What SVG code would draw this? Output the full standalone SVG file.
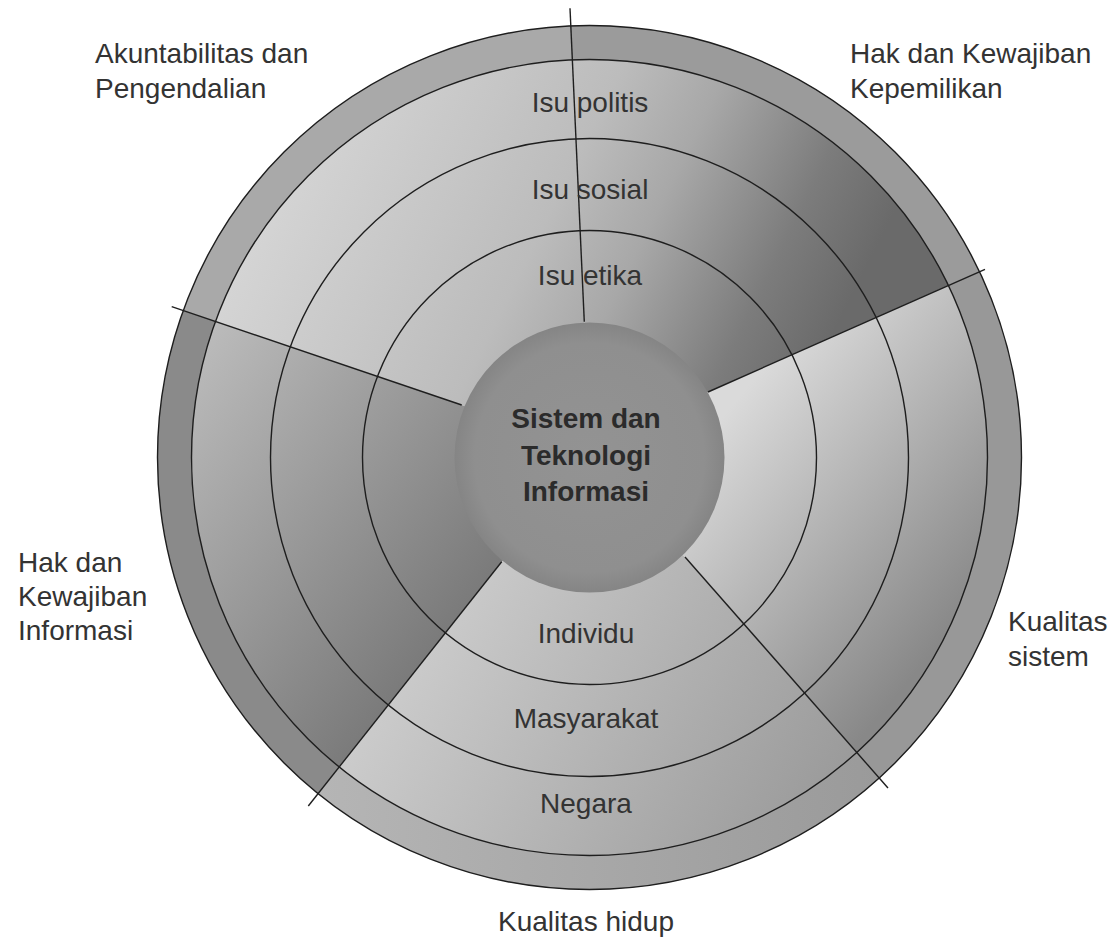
<svg xmlns="http://www.w3.org/2000/svg" width="1113" height="939" viewBox="0 0 1113 939">
  <style>
    .ring { fill: none; stroke: #1e1e1e; stroke-width: 1.4; }
    .div { fill: none; stroke: #1e1e1e; stroke-width: 1.4; stroke-linecap: butt; }
    .lbl { font-family: "Liberation Sans", Arial, sans-serif; font-size: 28px; fill: #333333; }
    .mid { text-anchor: middle; }
    .ctr { font-family: "Liberation Sans", Arial, sans-serif; font-size: 28px; font-weight: bold; fill: #2b2b2b; text-anchor: middle; }
  </style>
  <defs>
    <clipPath id="disc">
      <circle cx="589.5" cy="457.5" r="432"/>
    </clipPath>
    <clipPath id="band">
      <path clip-rule="evenodd" d="M157.5,457.5 a432,432 0 1,0 864,0 a432,432 0 1,0 -864,0 Z M191.5,457.5 a398,398 0 1,0 796,0 a398,398 0 1,0 -796,0 Z"/>
    </clipPath>
    <linearGradient id="gTop" gradientUnits="userSpaceOnUse" x1="300" y1="150" x2="800" y2="400">
      <stop offset="0" stop-color="#d4d4d4"/>
      <stop offset="0.45" stop-color="#bcbcbc"/>
      <stop offset="0.62" stop-color="#a8a8a8"/>
      <stop offset="0.85" stop-color="#7c7c7c"/>
      <stop offset="1" stop-color="#6a6a6a"/>
    </linearGradient>
    <linearGradient id="gRight" gradientUnits="userSpaceOnUse" x1="720" y1="420" x2="960" y2="620">
      <stop offset="0" stop-color="#dadada"/>
      <stop offset="1" stop-color="#888888"/>
    </linearGradient>
    <linearGradient id="gBottom" gradientUnits="userSpaceOnUse" x1="420" y1="620" x2="820" y2="860">
      <stop offset="0" stop-color="#cccccc"/>
      <stop offset="1" stop-color="#989898"/>
    </linearGradient>
    <linearGradient id="gBottomBand" gradientUnits="userSpaceOnUse" x1="300" y1="800" x2="880" y2="800">
      <stop offset="0" stop-color="#b6b6b6"/>
      <stop offset="1" stop-color="#9a9a9a"/>
    </linearGradient>
    <linearGradient id="gLeft" gradientUnits="userSpaceOnUse" x1="200" y1="350" x2="520" y2="600">
      <stop offset="0" stop-color="#bababa"/>
      <stop offset="1" stop-color="#747474"/>
    </linearGradient>
    <radialGradient id="gCenter" cx="0.5" cy="0.5" r="0.5">
      <stop offset="0" stop-color="#939393"/>
      <stop offset="0.85" stop-color="#8f8f8f"/>
      <stop offset="1" stop-color="#858585"/>
    </radialGradient>
  </defs>

  <rect x="0" y="0" width="1113" height="939" fill="#ffffff"/>

  <g id="sector-akuntabilitas">
    <polygon clip-path="url(#disc)" fill="url(#gTop)" points="589.5,452 461.7,405 -11.8,244.5 -11.8,-178.3 561.5,-178.3 584.3,321.7"/>
    <polygon clip-path="url(#band)" fill="#a9a9a9" points="589.5,452 461.7,405 -11.8,244.5 -11.8,-178.3 561.5,-178.3 584.3,321.7"/>
  </g>
  <g id="sector-kepemilikan">
    <polygon clip-path="url(#disc)" fill="url(#gTop)" points="589.5,452 584.3,321.7 561.5,-178.3 1165,-178.3 1165,189.5 708,392"/>
    <polygon clip-path="url(#band)" fill="#9b9b9b" points="589.5,452 584.3,321.7 561.5,-178.3 1165,-178.3 1165,189.5 708,392"/>
  </g>
  <g id="sector-kualitas-sistem">
    <polygon clip-path="url(#disc)" fill="url(#gRight)" points="589.5,452 708,392 1165,189.5 1165,932.6 1015,932.6 685,557"/>
    <polygon clip-path="url(#band)" fill="#989898" points="589.5,452 708,392 1165,189.5 1165,932.6 1015,932.6 685,557"/>
  </g>
  <g id="sector-kualitas-hidup">
    <polygon clip-path="url(#disc)" fill="url(#gBottom)" points="589.5,452 685,557 1015,932.6 1015,1000 191.2,1000 191.2,953.7 501.7,561.7"/>
    <polygon clip-path="url(#band)" fill="url(#gBottomBand)" points="589.5,452 685,557 1015,932.6 1015,1000 191.2,1000 191.2,953.7 501.7,561.7"/>
  </g>
  <g id="sector-hak-informasi">
    <polygon clip-path="url(#disc)" fill="url(#gLeft)" points="589.5,452 501.7,561.7 191.2,953.7 -11.8,953.7 -11.8,244.5 461.7,405"/>
    <polygon clip-path="url(#band)" fill="#8a8a8a" points="589.5,452 501.7,561.7 191.2,953.7 -11.8,953.7 -11.8,244.5 461.7,405"/>
  </g>

  <g id="rings">
    <circle class="ring" cx="589.5" cy="457.5" r="432"/>
    <circle class="ring" cx="589.5" cy="457.5" r="398"/>
    <circle class="ring" cx="589.5" cy="457.5" r="319"/>
    <circle class="ring" cx="589.5" cy="457.5" r="227"/>
  </g>

  <g id="connectors">
    <line class="div" x1="584.3" y1="321.7" x2="570" y2="8.3"/>
    <line class="div" x1="708" y1="392" x2="985" y2="269.3"/>
    <line class="div" x1="685" y1="557" x2="888" y2="788"/>
    <line class="div" x1="501.7" y1="561.7" x2="308.3" y2="806"/>
    <line class="div" x1="461.7" y1="405" x2="171.7" y2="306.7"/>
  </g>

  <g id="center-node">
    <circle cx="589.5" cy="457.5" r="135" fill="url(#gCenter)"/>
    <text class="ctr" x="586" y="428">Sistem dan</text>
    <text class="ctr" x="586" y="465">Teknologi</text>
    <text class="ctr" x="586" y="501">Informasi</text>
  </g>

  <g id="ring-labels-top">
    <text class="lbl mid" x="590" y="112">Isu politis</text>
    <text class="lbl mid" x="590" y="199">Isu sosial</text>
    <text class="lbl mid" x="590" y="285">Isu etika</text>
  </g>

  <g id="ring-labels-bottom">
    <text class="lbl mid" x="586" y="643">Individu</text>
    <text class="lbl mid" x="586" y="728">Masyarakat</text>
    <text class="lbl mid" x="586" y="813">Negara</text>
  </g>

  <g id="label-akuntabilitas">
    <text class="lbl" x="95" y="63">Akuntabilitas dan</text>
    <text class="lbl" x="95" y="98">Pengendalian</text>
  </g>
  <g id="label-kepemilikan">
    <text class="lbl" x="850" y="63">Hak dan Kewajiban</text>
    <text class="lbl" x="850" y="98">Kepemilikan</text>
  </g>
  <g id="label-informasi">
    <text class="lbl" x="18" y="572">Hak dan</text>
    <text class="lbl" x="18" y="606">Kewajiban</text>
    <text class="lbl" x="18" y="640">Informasi</text>
  </g>
  <g id="label-kualitas-sistem">
    <text class="lbl" x="1008" y="631">Kualitas</text>
    <text class="lbl" x="1008" y="666">sistem</text>
  </g>
  <g id="label-kualitas-hidup">
    <text class="lbl mid" x="586" y="931">Kualitas hidup</text>
  </g>
</svg>
